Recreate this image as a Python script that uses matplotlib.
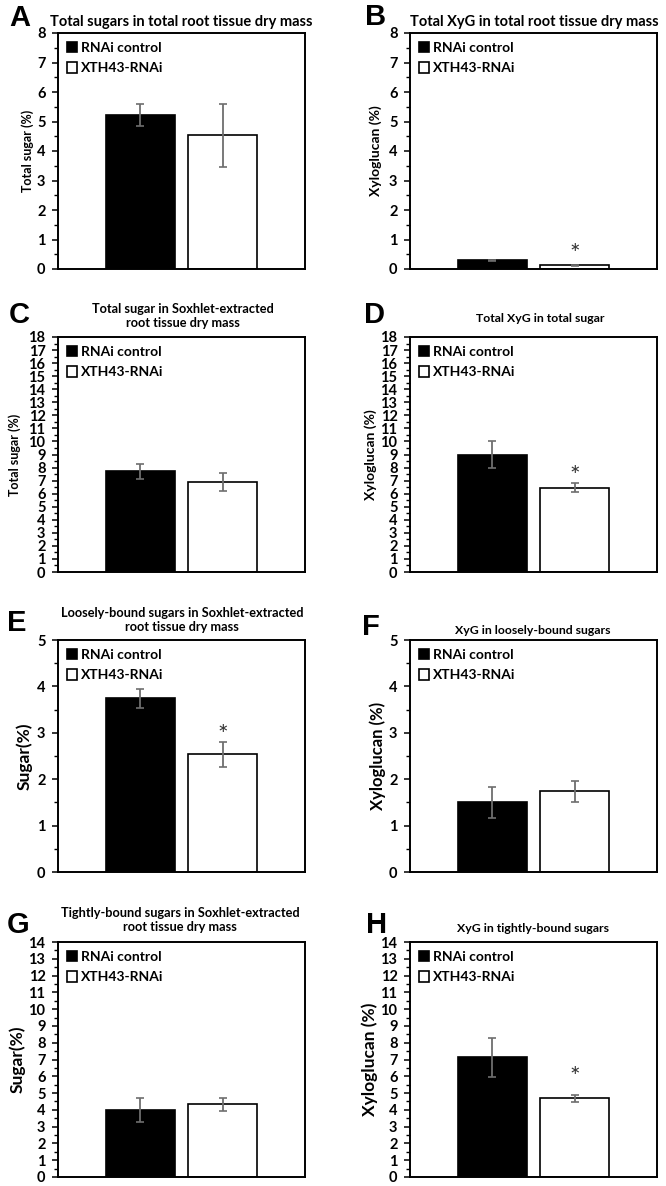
import matplotlib
matplotlib.use("Agg")
import matplotlib.pyplot as plt
from matplotlib.ticker import MultipleLocator
from matplotlib.patches import Patch

# -----------------------------
# Data
# -----------------------------
letters = ["A", "B", "C", "D", "E", "F", "G", "H"]
titles = [
    "Total sugars in total root tissue dry mass",
    "Total XyG in total root tissue dry mass",
    "Total sugar in Soxhlet-extracted\nroot tissue dry mass",
    "Total XyG in total sugar",
    "Loosely-bound sugars in Soxhlet-extracted\nroot tissue dry mass",
    "XyG in loosely-bound sugars",
    "Tightly-bound sugars in Soxhlet-extracted\nroot tissue dry mass",
    "XyG in tightly-bound sugars",
]
ylabels = ["Total sugar (%)", "Xyloglucan (%)", "Total sugar (%)", "Xyloglucan (%)",
           "Sugar(%)", "Xyloglucan (%)", "Sugar(%)", "Xyloglucan (%)"]
ymax = [8, 8, 18, 18, 5, 5, 14, 14]

ctrl = [5.23, 0.29, 7.70, 9.00, 3.74, 1.50, 3.97, 7.12]
ctrl_err = [0.37, 0.02, 0.55, 1.00, 0.20, 0.33, 0.72, 1.15]
rnai = [4.53, 0.12, 6.88, 6.46, 2.54, 1.74, 4.33, 4.69]
rnai_err = [1.07, 0.03, 0.68, 0.36, 0.27, 0.23, 0.38, 0.20]
significant = [False, True, False, True, True, False, False, True]
star_center = [None, 0.71, None, 7.84, 3.09, None, None, 6.33]

series_names = ["RNAi control", "XTH43-RNAi"]

# -----------------------------
# Layout (pixels of a 666x1186 canvas)
# -----------------------------
W, H = 666, 1186
col_left = [58, 410]
ax_w = 247
row_top = [33, 337, 640, 942]
row_bot = [269, 572, 872, 1177]

letter_xy = [(9, 18), (365, 17), (9, 315), (364, 315),
             (7, 623), (362, 627), (7, 925), (366, 925)]
title_xy = [(181, 22), (534, 22), (183, 316), (540, 318),
            (182, 620), (533, 630), (180, 920), (533, 928)]
title_size = [10.5, 10.5, 9.2, 8.8, 9.2, 8.8, 9.2, 8.8]
ylab_x = [28, 376, 15, 371, 24, 378, 17, 370]
ylab_size = [9, 10, 9, 10, 12.5, 12, 12.5, 12.5]

plt.rcParams['font.family'] = ['Lato', 'DejaVu Sans']

fig = plt.figure(figsize=(W / 100, H / 100), dpi=100)

for i in range(8):
    col = i % 2
    row = i // 2
    left = col_left[col]
    top, bot = row_top[row], row_bot[row]
    ax = fig.add_axes([left / W, 1 - bot / H, ax_w / W, (bot - top) / H])

    ax.bar([0], [ctrl[i]], width=0.83, color="black", edgecolor="black", linewidth=1.2,
           yerr=[ctrl_err[i]], ecolor="#6e6e6e",
           error_kw=dict(elinewidth=1.3, capsize=3, capthick=1.2),
           zorder=2)
    ax.bar([1], [rnai[i]], width=0.83, color="white", edgecolor="black", linewidth=1.2,
           yerr=[rnai_err[i]], ecolor="#6e6e6e",
           error_kw=dict(elinewidth=1.3, capsize=3, capthick=1.2),
           zorder=2)

    if significant[i]:
        ax.annotate("*", (1, star_center[i]), xytext=(0, -10), textcoords="offset points",
                    ha="center", va="baseline", fontsize=18, color="#333333")

    ax.set_xlim(-1, 2)
    ax.set_ylim(0, ymax[i])
    ax.set_xticks([])
    ax.yaxis.set_major_locator(MultipleLocator(1))
    ax.yaxis.set_minor_locator(MultipleLocator(0.5))
    ax.tick_params(axis="y", which="major", direction="out", length=4, width=1.1, pad=5)
    ax.tick_params(axis="y", which="minor", direction="out", length=3, width=1)
    for lab in ax.get_yticklabels():
        lab.set_fontweight("bold")
        lab.set_fontsize(10.5)
    for sp in ax.spines.values():
        sp.set_linewidth(1.4)

    ax.set_ylabel(ylabels[i], fontsize=ylab_size[i], fontweight="bold")
    ax.yaxis.set_label_coords((ylab_x[i] - left) / ax_w, 0.5)
    ax.yaxis.label.set_verticalalignment("center")

    handles = [Patch(facecolor="black", edgecolor="black", linewidth=1.2),
               Patch(facecolor="white", edgecolor="black", linewidth=1.2)]
    ax.legend(handles, series_names, loc="upper left", frameon=False,
              prop=dict(weight="bold", size=10), handlelength=0.75, handleheight=0.75,
              handletextpad=0.25, labelspacing=0.6, borderaxespad=0.45,
              borderpad=0.2)

    fig.text(title_xy[i][0] / W, 1 - title_xy[i][1] / H, titles[i], ha="center", va="center",
             fontsize=title_size[i], fontweight="bold", linespacing=1.15)
    fig.text(letter_xy[i][0] / W, 1 - letter_xy[i][1] / H, letters[i], ha="left", va="center",
             fontsize=21, fontweight="bold", family="Liberation Sans")

fig.savefig("out.png", dpi=100)
